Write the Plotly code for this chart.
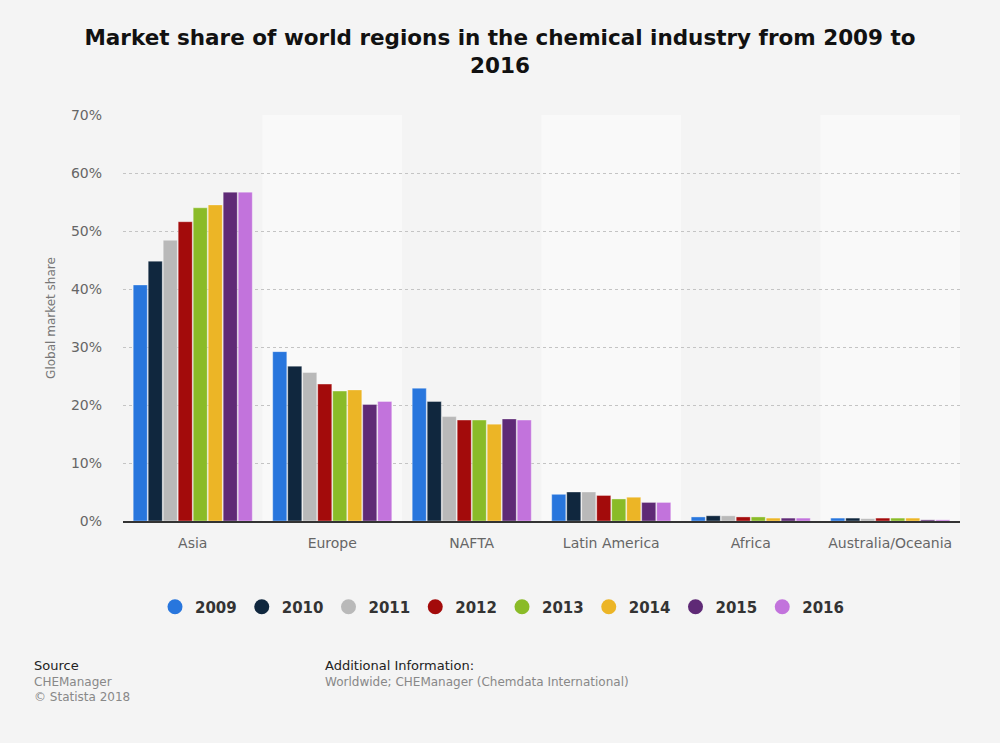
import plotly.graph_objects as go

regions = ["Asia", "Europe", "NAFTA", "Latin America", "Africa", "Australia/Oceania"]
years = ["2009", "2010", "2011", "2012", "2013", "2014", "2015", "2016"]
colors = ["#2876dd", "#10273e", "#b9b9b9", "#a30b0b", "#8abb28", "#ecb526", "#5f2a76", "#c273dc"]

v2009 = [40.7, 29.2, 22.9, 4.6, 0.7, 0.5]
v2010 = [44.8, 26.7, 20.6, 5.0, 0.9, 0.5]
v2011 = [48.4, 25.6, 18.0, 5.0, 0.9, 0.4]
v2012 = [51.6, 23.6, 17.4, 4.4, 0.7, 0.5]
v2013 = [54.0, 22.4, 17.4, 3.8, 0.7, 0.5]
v2014 = [54.5, 22.6, 16.7, 4.1, 0.5, 0.5]
v2015 = [56.7, 20.1, 17.6, 3.2, 0.5, 0.2]
v2016 = [56.7, 20.6, 17.4, 3.2, 0.5, 0.2]
series = [v2009, v2010, v2011, v2012, v2013, v2014, v2015, v2016]

y_ticks = [0, 10, 20, 30, 40, 50, 60, 70]
y_labels = ["0%", "10%", "20%", "30%", "40%", "50%", "60%", "70%"]

L, R, T, B = 123, 40, 115, 222
W, H = 1000, 743
pw = W - L - R
ph = H - T - B

fig = go.Figure()
for yr, vals, c in zip(years, series, colors):
    fig.add_trace(go.Bar(x=regions, y=vals, name=yr,
                         marker=dict(color=c, line=dict(color="rgba(255,255,255,0.35)", width=1)),
                         showlegend=False))
for yr, c in zip(years, colors):
    fig.add_trace(go.Scatter(x=[None], y=[None], mode="markers", name="<b>" + yr + "</b>",
                             marker=dict(symbol="circle", size=15, color=c)))

# alternating column bands
for i in range(len(regions)):
    if i % 2 == 1:
        fig.add_shape(type="rect", xref="x", yref="paper", x0=i - 0.5, x1=i + 0.5, y0=0, y1=1,
                      fillcolor="#f9f9f9", line=dict(width=0), layer="below")

fig.update_layout(
    width=W, height=H,
    paper_bgcolor="#f4f4f4", plot_bgcolor="#f4f4f4",
    margin=dict(l=L, r=R, t=T, b=B),
    font=dict(family="DejaVu Sans", color="#666666"),
    barmode="group", bargap=0.14, bargroupgap=0.06,
    title=dict(text="<b>Market share of world regions in the chemical industry from 2009 to<br>2016</b>",
               x=0.5, xanchor="center", y=(H - 45) / H, yanchor="top",
               font=dict(family="DejaVu Sans", size=21.5, color="#111111")),
    legend=dict(orientation="h", x=(155 - L) / pw, xanchor="left", y=(H - B - 607) / ph, yanchor="middle",
                font=dict(size=15, color="#333333", family="DejaVu Sans"),
                itemwidth=30, tracegroupgap=0, bgcolor="rgba(0,0,0,0)", itemclick=False),
    showlegend=True,
)

fig.update_xaxes(showgrid=False, showline=True, linecolor="#333333", linewidth=1.5,
                 tickfont=dict(size=14, color="#666666"), ticks="", range=[-0.5, 5.5],
                 ticklabelstandoff=8)
fig.update_yaxes(range=[0, 70], tickvals=y_ticks, ticktext=y_labels, showgrid=True,
                 gridcolor="#c4c4c4", griddash="dot", gridwidth=1, zeroline=False,
                 tickfont=dict(size=14, color="#666666"), ticklabelstandoff=20,
                 title=dict(text="Global market share", font=dict(size=12, color="#777777"), standoff=12))

annots = [
    dict(text="Source", x=32, y=665, size=13, color="#222222"),
    dict(text="CHEManager", x=32, y=682, size=12, color="#888888"),
    dict(text="© Statista 2018", x=32, y=697, size=12, color="#888888"),
    dict(text="Additional Information:", x=323, y=665, size=13, color="#222222"),
    dict(text="Worldwide; CHEManager (Chemdata International)", x=323, y=682, size=12, color="#888888"),
]
for a in annots:
    fig.add_annotation(text=a["text"], xref="paper", yref="paper",
                       x=(a["x"] - L) / pw, y=(H - B - a["y"]) / ph,
                       xanchor="left", yanchor="middle", showarrow=False,
                       font=dict(size=a["size"], color=a["color"], family="DejaVu Sans"))

fig.write_html("out.html")
